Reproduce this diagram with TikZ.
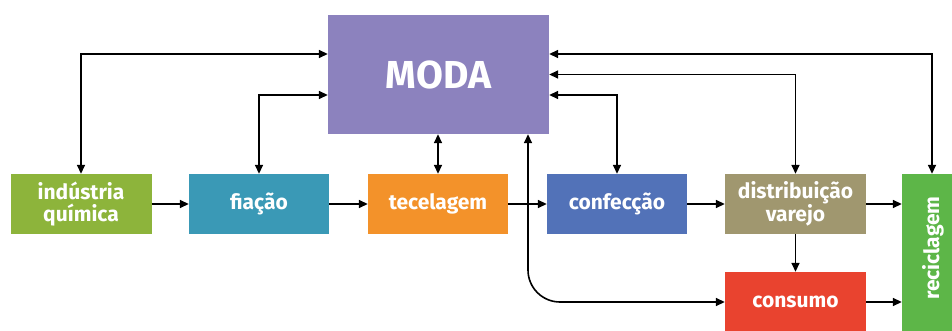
\documentclass[tikz,border=0pt]{standalone}
\usepackage{fontspec}
\setmainfont{Fira Sans}
\usetikzlibrary{arrows.meta}
\definecolor{modaC}{HTML}{8C82BE}
\definecolor{quimC}{HTML}{8DB43B}
\definecolor{fiaC}{HTML}{3A99B6}
\definecolor{tecC}{HTML}{F3922A}
\definecolor{confC}{HTML}{5272B8}
\definecolor{distC}{HTML}{A0976F}
\definecolor{consC}{HTML}{E9432F}
\definecolor{recC}{HTML}{5DB648}
\begin{document}
\begin{tikzpicture}[x=1pt,y=-1pt,
  lbl/.style={text=white, font=\bfseries\fontsize{21}{22}\selectfont},
  box/.style={fill=#1, lbl, align=center, inner sep=0pt,
    minimum width=141pt, minimum height=60pt},
  tip/.tip={Triangle[length=9pt,width=8pt]},
  link/.style={line width=1.6pt, -tip},
  both/.style={line width=1.6pt, tip-tip}]
\useasboundingbox (0,0) rectangle (952,331);
\clip (0,0) rectangle (952,331);
% central node
\node[box=modaC, minimum width=221pt, minimum height=119pt,
  font=\bfseries\fontsize{39}{40}\selectfont] (moda) at (438.5,74.5) {MODA};
% production chain
\node[box=quimC] (ind) at (81,204) {indústria\\química};
\node[box=fiaC, minimum width=140pt] (fia) at (259,204) {fiação};
\node[box=tecC, minimum width=140pt] (tec) at (438,204) {tecelagem};
\node[box=confC, minimum width=140pt] (conf) at (617,204) {confecção};
\node[box=distC] (dist) at (795.5,204) {distribuição\\varejo};
\node[box=consC] (cons) at (795.5,302) {consumo};
\node[box=recC, minimum width=60pt, minimum height=161pt] (rec) at (932,254.5) {};
\node[lbl, rotate=90] (reclab) at (933,248) {reciclagem};
% flow along the chain
\draw[link] (ind.east) -- (fia.west);
\draw[link] (fia.east) -- (tec.west);
\draw[link] (tec.east) -- (conf.west);
\draw[link] (conf.east) -- (dist.west);
\draw[link] (dist.east) -- (dist.east -| rec.west);
\draw[link] (dist.south) -- (cons.north);
\draw[link] (cons.east) -- (cons.east -| rec.west);
% exchanges with fashion
\draw[both] ([yshift=20.5pt]moda.west) -| (ind.north);
\draw[both] ([yshift=-20.5pt]moda.west) -| (fia.north);
\draw[both] (moda.south -| tec.north) -- (tec.north);
\draw[both] ([yshift=-20.5pt]moda.east) -| (conf.north);
\draw[both] (moda.east) -| (dist.north);
\draw[both] ([yshift=20.5pt]moda.east) -| (rec.north);
\draw[both, rounded corners=32pt] ([xshift=89.5pt]moda.south) |- (cons.west);
\end{tikzpicture}
\end{document}
